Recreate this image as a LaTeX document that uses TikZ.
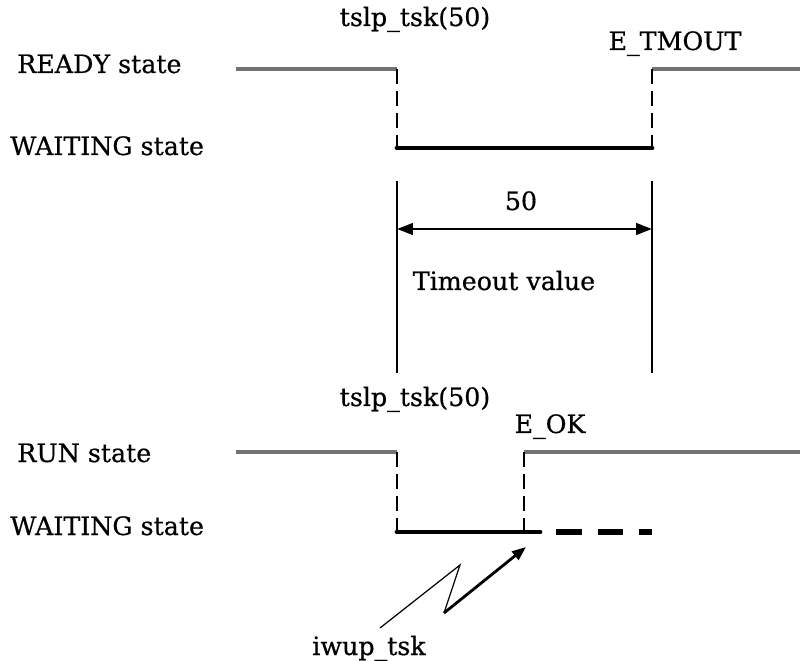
\documentclass[tikz,border=0pt]{standalone}
\usepackage{fontspec}
\setmainfont{DejaVu Serif}[FakeBold=0.6]
\usetikzlibrary{arrows.meta}

\begin{document}
\begin{tikzpicture}[
    x=0.02cm, y=-0.02cm,
    txt/.style     = {font=\fontsize{14.4}{17}\selectfont, inner sep=0pt, anchor=base},
    state/.style   = {txt, anchor=base west},
    ready/.style   = {line width=2.3pt, draw=black!55},
    waiting/.style = {line width=2.8pt, line cap=round},
    switch/.style  = {line width=1.6pt, dash pattern=on 8.5pt off 4pt},
    guide/.style   = {line width=0.9pt},
    arrow/.style   = {{Triangle[length=9pt, width=6.5pt]}-{Triangle[length=9pt, width=6.5pt]}, line width=1.5pt},
    wake/.style    = {-{Triangle[length=8pt, width=6pt]}, line width=1.6pt}
]
\useasboundingbox (0,0) rectangle (800,661);
% timeout case
\node[state] (ready)  at (17,73)  {READY state};
\node[state] (wait1)  at (10,155) {WAITING state};
\node[txt]   (call1)  at (415,26) {tslp\_tsk(50)};
\node[txt]   (tmout)  at (675,50) {E\_TMOUT};
\coordinate (a0) at (236,69);
\coordinate (a1) at (397,69);
\coordinate (a2) at (397,148);
\coordinate (a3) at (652,148);
\coordinate (a4) at (652,69);
\coordinate (a5) at (800,69);
\draw[ready] (a0) -- (a1);
\draw[ready] (a4) -- (a5);
\draw[switch] (a1) -- (a2);
\draw[switch] (a4) -- (a3);
\draw[waiting] (a2) -- (a3);
% timeout value
\coordinate (g0) at (397,181);
\coordinate (g1) at (397,373);
\coordinate (g2) at (652,181);
\coordinate (g3) at (652,373);
\foreach \a/\b in {g0/g1, g2/g3}
  \draw[guide] (\a) -- (\b);
\draw[arrow] (397,229) -- (652,229);
\node[txt] (val)  at (521,210) {50};
\node[txt] (tout) at (504,290) {Timeout value};
% wake-up case
\node[state] (run)    at (17,462) {RUN state};
\node[state] (wait2)  at (10,535) {WAITING state};
\node[txt]   (call2)  at (415,406) {tslp\_tsk(50)};
\node[txt]   (eok)    at (550,433) {E\_OK};
\coordinate (b0) at (236,452);
\coordinate (b1) at (397,452);
\coordinate (b2) at (397,532);
\coordinate (b3) at (524,532);
\coordinate (b4) at (524,452);
\coordinate (b5) at (800,452);
\coordinate (b6) at (540,532);
\coordinate (b7) at (556,532);
\coordinate (b8) at (652,532);
\draw[ready] (b0) -- (b1);
\draw[ready] (b4) -- (b5);
\draw[switch] (b1) -- (b2);
\draw[switch] (b4) -- (b3);
\draw[waiting] (b2) -- (b6);
\draw[line width=3.4pt, dash pattern=on 14.7pt off 9pt] (b7) -- (b8);
% interrupt
\node[txt] (iwup) at (369,655) {iwup\_tsk};
\coordinate (z0) at (380,628);
\coordinate (z1) at (460,565);
\coordinate (z2) at (444,613);
\coordinate (z3) at (526,547);
\draw[line width=0.7pt, line join=miter] (z0) -- (z1) -- (z2);
\draw[wake] (z2) -- (z3);
\end{tikzpicture}
\end{document}
